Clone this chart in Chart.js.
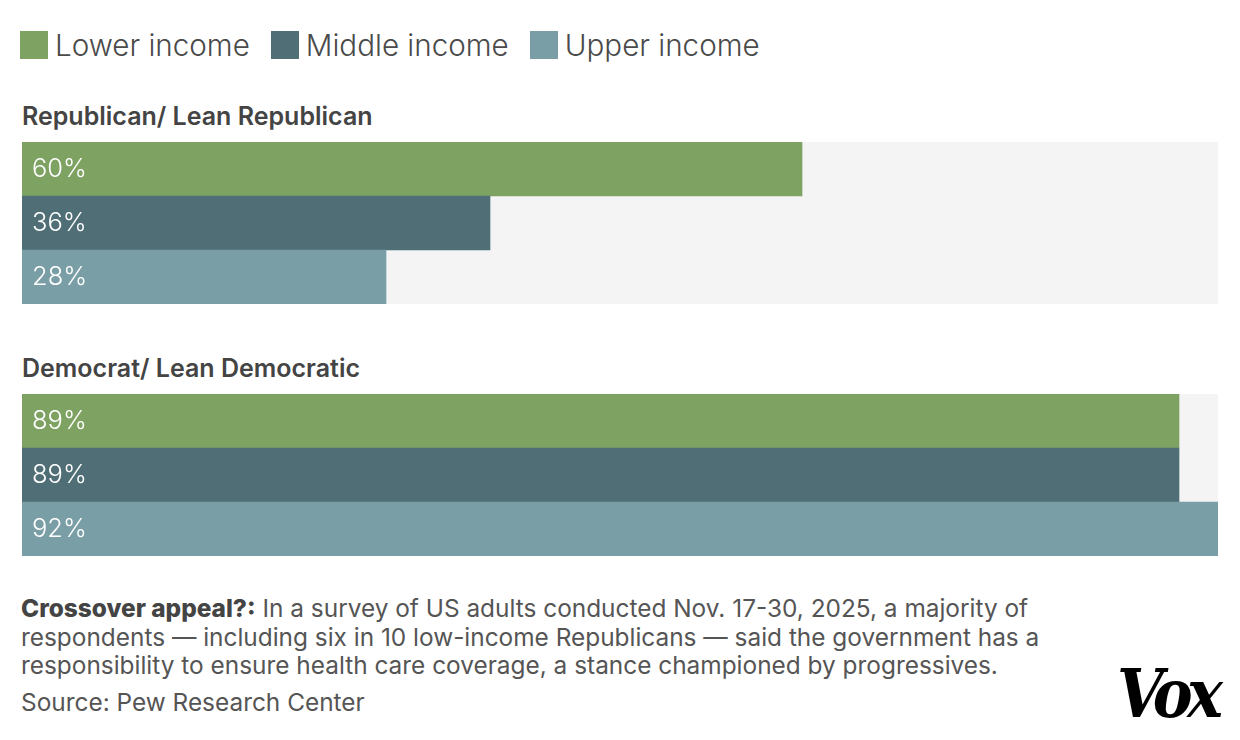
<!DOCTYPE html>
<html>
<head>
<meta charset="utf-8">
<script src="https://cdn.jsdelivr.net/npm/chart.js@4/dist/chart.umd.min.js"></script>
<style>
  body { margin: 0; background: #fff; width: 1240px; height: 740px; position: relative; overflow: hidden; font-family: Inter, Roboto, sans-serif; color: #555; }
  .legend { position: absolute; top: 27px; left: 20px; display: flex; align-items: center; font-size: 29.6px; font-weight: 300; color: #4a4a4a; }
  .legend span.sw { display: inline-block; width: 28px; height: 28px; margin-right: 7px; }
  .legend .item { display: flex; align-items: center; margin-right: 21px; }
  .group-title { position: absolute; left: 22px; font-size: 25px; font-weight: 600; color: #444; }
  .chart-box { position: absolute; left: 22px; width: 1196px; height: 162px; }
  .caption { position: absolute; left: 21px; top: 594px; font-size: 24.4px; line-height: 28.5px; color: #555; font-weight: 400; }
  .caption b { color: #444; font-weight: 800; }
  .source { position: absolute; left: 21px; top: 688px; font-size: 24.4px; line-height: 28.5px; color: #555; }
  .logo { position: absolute; left: 1117px; top: 659px; font-family: "DejaVu Serif", serif; font-style: italic; font-weight: 700; font-size: 68px; line-height: 1; color: #000; letter-spacing: -6px; transform: scaleX(0.88); transform-origin: left top; }
</style>
</head>
<body>
<div class="legend" id="legend"></div>
<div class="group-title" id="title0" style="top:101px"></div>
<div class="chart-box" style="top:142px"><canvas id="chart0"></canvas></div>
<div class="group-title" id="title1" style="top:353px"></div>
<div class="chart-box" style="top:394px"><canvas id="chart1"></canvas></div>
<div class="caption"><b>Crossover appeal?:</b> In a survey of US adults conducted Nov. 17-30, 2025, a majority of<br>respondents — including six in 10 low-income Republicans — said the government has a<br>responsibility to ensure health care coverage, a stance championed by progressives.</div>
<div class="source">Source: Pew Research Center</div>
<div class="logo">Vox</div>
<script>
// Data
const groups = ['Republican/ Lean Republican', 'Democrat/ Lean Democratic'];
const incomes = ['Lower income', 'Middle income', 'Upper income'];
const lowerValues = [60, 89];
const middleValues = [36, 89];
const upperValues = [28, 92];
const colors = ['#7ea262', '#4f6e76', '#7a9ea6'];
const axisMax = 92;

// Legend
const legend = document.getElementById('legend');
incomes.forEach((name, i) => {
    const item = document.createElement('div');
    item.className = 'item';
    item.innerHTML = `<span class="sw" style="background:${colors[i]}"></span>${name}`;
    legend.appendChild(item);
});

// Gray track behind bars + value labels inside bars
const trackPlugin = {
    id: 'track',
    beforeDatasetsDraw(chart) {
        const { ctx, chartArea } = chart;
        ctx.save();
        ctx.fillStyle = '#f4f4f4';
        ctx.fillRect(chartArea.left, chartArea.top, chartArea.right - chartArea.left, chartArea.bottom - chartArea.top);
        ctx.restore();
    },
    afterDatasetsDraw(chart) {
        const { ctx } = chart;
        const meta = chart.getDatasetMeta(0);
        ctx.save();
        ctx.fillStyle = '#fff';
        ctx.font = '300 25.5px Inter, sans-serif';
        ctx.textBaseline = 'middle';
        meta.data.forEach((bar, i) => {
            ctx.fillText(chart.data.datasets[0].data[i] + '%', bar.base + 10, bar.y);
        });
        ctx.restore();
    }
};

groups.forEach((g, gi) => {
    document.getElementById('title' + gi).textContent = g;
    new Chart(document.getElementById('chart' + gi), {
        type: 'bar',
        data: {
            labels: incomes,
            datasets: [{
                data: [lowerValues[gi], middleValues[gi], upperValues[gi]],
                backgroundColor: colors,
                categoryPercentage: 1,
                barPercentage: 1,
                borderWidth: 0
            }]
        },
        options: {
            indexAxis: 'y',
            responsive: true,
            maintainAspectRatio: false,
            animation: false,
            layout: { padding: 0 },
            scales: {
                x: { display: false, min: 0, max: axisMax },
                y: { display: false }
            },
            plugins: { legend: { display: false }, tooltip: { enabled: false } }
        },
        plugins: [trackPlugin]
    });
});
</script>
</body>
</html>
